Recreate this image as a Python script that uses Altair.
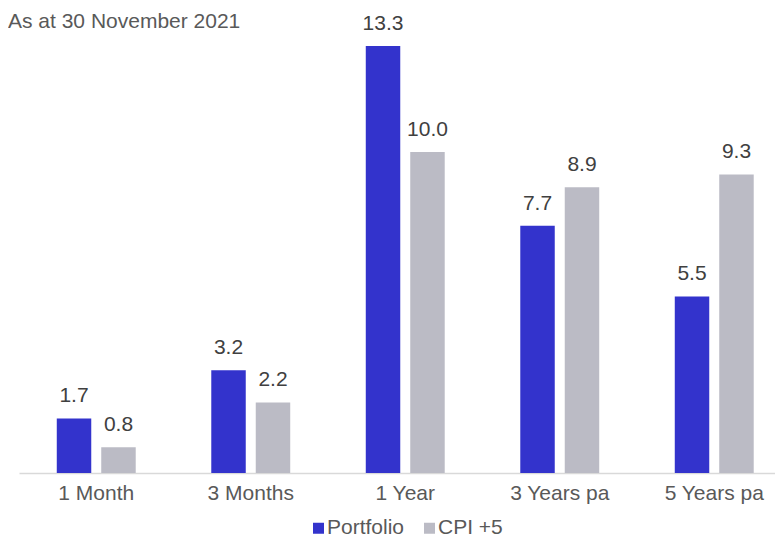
import altair as alt
import pandas as pd

periods = ["1 Month", "3 Months", "1 Year", "3 Years pa", "5 Years pa"]
series_names = ["Portfolio", "CPI +5"]
portfolio = [1.7, 3.2, 13.3, 7.7, 5.5]
cpi = [0.8, 2.2, 10.0, 8.9, 9.3]
colors = ["#3333CC", "#BBBBC5"]
title_text = ["As at 30 November 2021"]

rows = []
for p, a, b in zip(periods, portfolio, cpi):
    rows.append({"period": p, "series": series_names[0], "value": a})
    rows.append({"period": p, "series": series_names[1], "value": b})
df = pd.DataFrame(rows)

FONT = "Liberation Sans"
GREY = "#595959"

x = alt.X(
    "period:N", sort=periods, title=None,
    scale=alt.Scale(range=[0, 772.5], paddingInner=0.489, paddingOuter=0.2445),
    axis=alt.Axis(labelAngle=0, labelFontSize=21, labelFont=FONT, labelColor=GREY,
                  ticks=False, tickSize=0, labelPadding=26, labelBaseline="alphabetic",
                  domainColor="#D9D9D9", domainWidth=1.5, grid=False),
)
xo = alt.XOffset("series:N", sort=series_names,
                 scale=alt.Scale(paddingInner=0.2247, paddingOuter=0))
y = alt.Y("value:Q", scale=alt.Scale(domain=[0, 14.486], nice=False, zero=True), axis=None)

bars = alt.Chart(df).mark_bar().encode(
    x=x, xOffset=xo, y=y,
    color=alt.Color(
        "series:N", sort=series_names, title=None,
        scale=alt.Scale(domain=series_names, range=colors),
        legend=alt.Legend(orient="none", legendX=289, legendY=509.5, direction="horizontal",
                          symbolType="square", symbolSize=121, symbolStrokeWidth=0,
                          labelFontSize=21, labelFont=FONT, labelColor=GREY,
                          labelOffset={"expr": "-2"}, columnPadding=14, padding=0),
    ),
)

labels = alt.Chart(df).mark_text(dy=-16, baseline="alphabetic", fontSize=21, font=FONT,
                                 color="#404040").encode(
    x=x, xOffset=xo, y=y, text=alt.Text("value:Q", format=".1f"),
)

title = alt.Chart(pd.DataFrame({"t": title_text})).mark_text(
    align="left", baseline="alphabetic", fontSize=21, font=FONT, color=GREY,
).encode(x=alt.value(-11), y=alt.value(20), text="t:N")

chart = alt.layer(bars, labels, title).properties(
    width=756, height=465,
    autosize=alt.AutoSizeParams(type="none"),
    padding={"left": 11, "top": 0, "right": 0, "bottom": 67},
).configure_view(stroke=None)

chart.save("out.html", embed_options={"renderer": "svg", "actions": False})
